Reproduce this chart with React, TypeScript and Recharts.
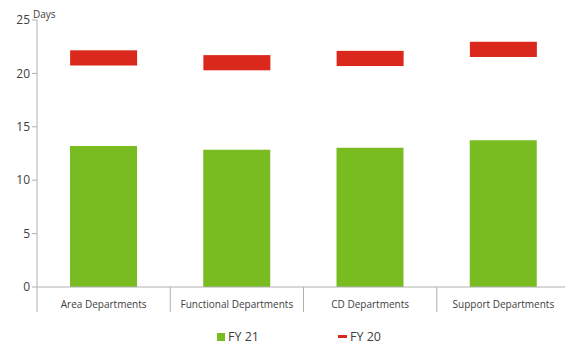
import { Bar, ComposedChart, Line, XAxis, YAxis } from "recharts"

const categories = ["Area Departments", "Functional Departments", "CD Departments", "Support Departments"]
const fy21 = [13.2, 12.85, 13.05, 13.75]
const fy20 = [21.45, 21.0, 21.4, 22.25]
const yTicks = [0, 5, 10, 15, 20, 25]

const data = categories.map((name, i) => ({ name, fy21: fy21[i], fy20: fy20[i] }))

const GREEN = "#79BC21"
const RED = "#DA291C"
const AXIS = "#b0b0b0"
const TEXT = "#404040"
const FONT = "'Open Sans', 'Noto Sans', sans-serif"

const W = 570
const H = 345
const xAxisHeight = 30
const margin = { top: 20, right: 0, bottom: 28, left: 0 }
const yAxisWidth = 37
const plotBottom = H - margin.bottom - xAxisHeight
const band = (W - margin.left - margin.right - yAxisWidth) / categories.length

function CategoryTick(props: any) {
  const { x, payload } = props
  const left = x - band / 2
  return (
    <g>
      <line x1={left} x2={left} y1={plotBottom} y2={plotBottom + 25} stroke={AXIS} />
      <text x={x} y={plotBottom + 21} textAnchor="middle" fontSize={10} fill={TEXT} fontFamily={FONT}>
        {payload.value}
      </text>
    </g>
  )
}

function Marker(props: any) {
  const { cx, cy } = props
  if (cx == null || cy == null) return null
  return <rect x={cx - 33.5} y={cy - 7.6} width={67} height={15.2} fill={RED} />
}

function ChartLegend() {
  return (
    <div style={{ position: "absolute", top: 330, left: 217, display: "flex", fontFamily: FONT, fontSize: 12.5, lineHeight: "13px", color: TEXT }}>
      <div style={{ display: "flex", alignItems: "center", width: 121 }}>
        <span style={{ display: "inline-block", width: 8, height: 8, background: GREEN, marginRight: 3 }} />
        FY 21
      </div>
      <div style={{ display: "flex", alignItems: "center" }}>
        <span style={{ display: "inline-block", width: 9, height: 3, background: RED, marginRight: 3 }} />
        FY 20
      </div>
    </div>
  )
}

export default function App() {
  return (
    <div style={{ position: "fixed", top: 0, left: 0, width: 565, height: H, overflow: "hidden", background: "#fff" }}>
      <div style={{ position: "absolute", left: 33, top: 7, fontFamily: FONT, fontSize: 10, color: TEXT }}>Days</div>
      <ComposedChart width={W} height={H} data={data} margin={margin}>
        <YAxis
          width={yAxisWidth}
          domain={[0, 25]}
          ticks={yTicks}
          interval={0}
          axisLine={{ stroke: AXIS }}
          tickLine={{ stroke: AXIS }}
          tickSize={5}
          tick={{ fontSize: 12, fill: TEXT, fontFamily: FONT }}
        />
        <XAxis
          dataKey="name"
          height={xAxisHeight}
          axisLine={{ stroke: AXIS }}
          tickLine={false}
          interval={0}
          tick={<CategoryTick />}
        />
        <Bar dataKey="fy21" name="FY 21" fill={GREEN} barSize={67} isAnimationActive={false} />
        <Line
          dataKey="fy20"
          name="FY 20"
          stroke="none"
          dot={<Marker />}
          activeDot={false}
          isAnimationActive={false}
        />
      </ComposedChart>
      <ChartLegend />
    </div>
  )
}
